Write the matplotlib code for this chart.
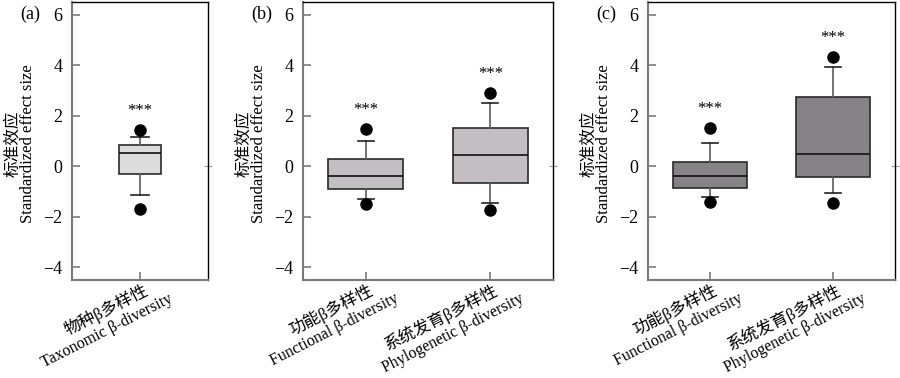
import matplotlib
matplotlib.use("Agg")
import matplotlib.pyplot as plt
from matplotlib.transforms import offset_copy

plt.rcParams['font.family'] = ['Liberation Serif', 'Noto Sans CJK SC']
plt.rcParams['axes.unicode_minus'] = True

# panel (a)
a_cn = ["物种β多样性"]
a_en = ["Taxonomic β-diversity"]
a_q1 = [-0.32]
a_med = [0.53]
a_q3 = [0.84]
a_lo = [-1.12]
a_hi = [1.16]
a_fliers = [[1.42, -1.69]]

# panel (b)
b_cn = ["功能β多样性", "系统发育β多样性"]
b_en = ["Functional β-diversity", "Phylogenetic β-diversity"]
b_q1 = [-0.91, -0.68]
b_med = [-0.37, 0.45]
b_q3 = [0.29, 1.51]
b_lo = [-1.30, -1.44]
b_hi = [0.98, 2.52]
b_fliers = [[1.48, -1.50], [2.90, -1.73]]

# panel (c)
c_cn = ["功能β多样性", "系统发育β多样性"]
c_en = ["Functional β-diversity", "Phylogenetic β-diversity"]
c_q1 = [-0.85, -0.41]
c_med = [-0.38, 0.50]
c_q3 = [0.16, 2.74]
c_lo = [-1.20, -1.07]
c_hi = [0.93, 3.91]
c_fliers = [[1.51, -1.42], [4.32, -1.46]]

panels = [
    ("(a)", a_cn, a_en, a_q1, a_med, a_q3, a_lo, a_hi, a_fliers, "#dcdcdc", 0.31, [0.080, 0.259, 0.151, 0.736]),
    ("(b)", b_cn, b_en, b_q1, b_med, b_q3, b_lo, b_hi, b_fliers, "#c2bec2", 0.60, [0.337, 0.259, 0.277, 0.736]),
    ("(c)", c_cn, c_en, c_q1, c_med, c_q3, c_lo, c_hi, c_fliers, "#858385", 0.60, [0.720, 0.259, 0.274, 0.736]),
]

fig = plt.figure(figsize=(9, 3.78), dpi=100)
spine_gray = "#7a7a7a"
rot = 27

for tag, cn, en, q1, med, q3, lo, hi, fl, color, width, pos in panels:
    ax = fig.add_axes(pos)
    stats = []
    for i in range(len(en)):
        stats.append(dict(q1=q1[i], med=med[i], q3=q3[i], whislo=lo[i], whishi=hi[i], fliers=fl[i]))
    xs = list(range(len(en)))
    ax.bxp(stats, positions=xs, widths=width, patch_artist=True,
           boxprops=dict(facecolor=color, edgecolor="#2a2a2a", linewidth=1.2),
           medianprops=dict(color="#111111", linewidth=1.2),
           whiskerprops=dict(color="#5a5a5a", linewidth=1.2),
           capprops=dict(color="#222222", linewidth=1.2),
           capwidths=0.13,
           flierprops=dict(marker="o", markerfacecolor="black", markeredgecolor="black", markersize=8))
    for i in xs:
        top = max(fl[i] + [hi[i]])
        ax.text(i, top + 0.75, "***", ha="center", va="center", fontsize=12)
    ax.set_xlim(-0.5, len(en) - 0.5)
    ax.set_ylim(-4.5, 6.5)
    ax.set_yticks([-4, -2, 0, 2, 4, 6])
    ax.set_xticks(xs)
    ax.set_xticklabels([""] * len(xs))
    ax.tick_params(axis="both", direction="in", length=6, width=1.2, color=spine_gray, labelsize=13)
    ax.tick_params(axis="y", pad=7)
    for s in ["left", "bottom"]:
        ax.spines[s].set_color(spine_gray)
        ax.spines[s].set_linewidth(1.5)
    for s in ["top", "right"]:
        ax.spines[s].set_color("black")
        ax.spines[s].set_linewidth(1.0)
    ax2 = ax.secondary_yaxis("right")
    ax2.set_yticks([0])
    ax2.set_yticklabels([""])
    ax2.tick_params(direction="inout", length=6, color="#999999")
    ax2.spines["right"].set_visible(False)

    # category labels, Chinese above English, rotated
    xt = ax.get_xaxis_transform()
    for i in xs:
        ax.text(i, 0, en[i], transform=offset_copy(xt, fig=fig, x=34, y=-21, units="dots"),
                rotation=rot, rotation_mode="anchor", ha="right", va="baseline", fontsize=11.5)
        ax.text(i, 0, cn[i], transform=offset_copy(xt, fig=fig, x=9, y=-14, units="dots"),
                rotation=rot, rotation_mode="anchor", ha="right", va="baseline", fontsize=12)

    # y label in two lines
    ax.text(0, 0.49, "Standardized effect size", transform=offset_copy(ax.transAxes, fig=fig, x=-44, y=0, units="dots"),
            rotation=90, ha="center", va="center", fontsize=12)
    ax.text(0, 0.49, "标准效应", transform=offset_copy(ax.transAxes, fig=fig, x=-59, y=0, units="dots"),
            rotation=90, ha="center", va="center", fontsize=12)
    ax.text(0, 6, tag, transform=offset_copy(ax.get_yaxis_transform(), fig=fig, x=-42, y=0, units="dots"),
            ha="center", va="center", fontsize=13)

fig.savefig("out.png", dpi=100)
